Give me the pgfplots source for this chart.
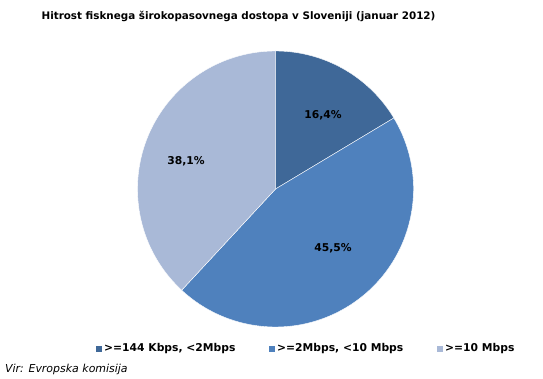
\documentclass[border=0pt]{standalone}
\usepackage{pgfplots}
\pgfplotsset{compat=1.18}
\usepackage{fontspec}
\setmainfont{DejaVu Sans}
\definecolor{pieA}{HTML}{3F6898}
\definecolor{pieB}{HTML}{4F81BD}
\definecolor{pieC}{HTML}{A9B9D7}
\begin{document}
\begin{tikzpicture}
\begin{axis}[
  scale only axis, width=543bp, height=379bp,
  xmin=0, xmax=543, ymin=0, ymax=379,
  hide axis, clip=false,
]
\addplot[draw=none] coordinates {(0,0) (543,379)};
\pgfplotsextra{
  \gdef\curang{90}
  \foreach \v/\c in {16.4/pieA, 45.5/pieB, 38.1/pieC} {
    \pgfmathsetmacro\endang{\curang - 3.6*\v}
    \fill[\c, draw=white, line width=0.4bp, line join=round]
      (axis cs:275.5,190) -- ++(\curang:138bp)
      arc[start angle=\curang, end angle=\endang, radius=138bp] -- cycle;
    \xdef\curang{\endang}
  }
  % slice labels
  \node[font=\bfseries\fontsize{10.8}{12}\selectfont] at (axis cs:323,264) {16,4\%};
  \node[font=\bfseries\fontsize{10.8}{12}\selectfont] at (axis cs:333,131) {45,5\%};
  \node[font=\bfseries\fontsize{10.8}{12}\selectfont] at (axis cs:186,218) {38,1\%};
  % title
  \node[font=\bfseries\fontsize{10.4}{12}\selectfont] at (axis cs:238.5,363) {Hitrost fisknega širokopasovnega dostopa v Sloveniji (januar 2012)};
  % legend
  \fill[pieA] (axis cs:96,27) rectangle (axis cs:102,33);
  \node[anchor=west, inner sep=0pt, font=\bfseries\fontsize{10.8}{12}\selectfont] at (axis cs:104,30) {>=144 Kbps, <2Mbps};
  \fill[pieB] (axis cs:269,27) rectangle (axis cs:275,33);
  \node[anchor=west, inner sep=0pt, font=\bfseries\fontsize{10.8}{12}\selectfont] at (axis cs:277,30) {>=2Mbps, <10 Mbps};
  \fill[pieC] (axis cs:437,27) rectangle (axis cs:443,33);
  \node[anchor=west, inner sep=0pt, font=\bfseries\fontsize{10.8}{12}\selectfont] at (axis cs:445,30) {>=10 Mbps};
  % source
  \node[anchor=west, inner sep=0pt, font=\itshape\fontsize{11}{12}\selectfont] at (axis cs:5,10) {Vir: Evropska komisija};
}
\end{axis}
\end{tikzpicture}
\end{document}
